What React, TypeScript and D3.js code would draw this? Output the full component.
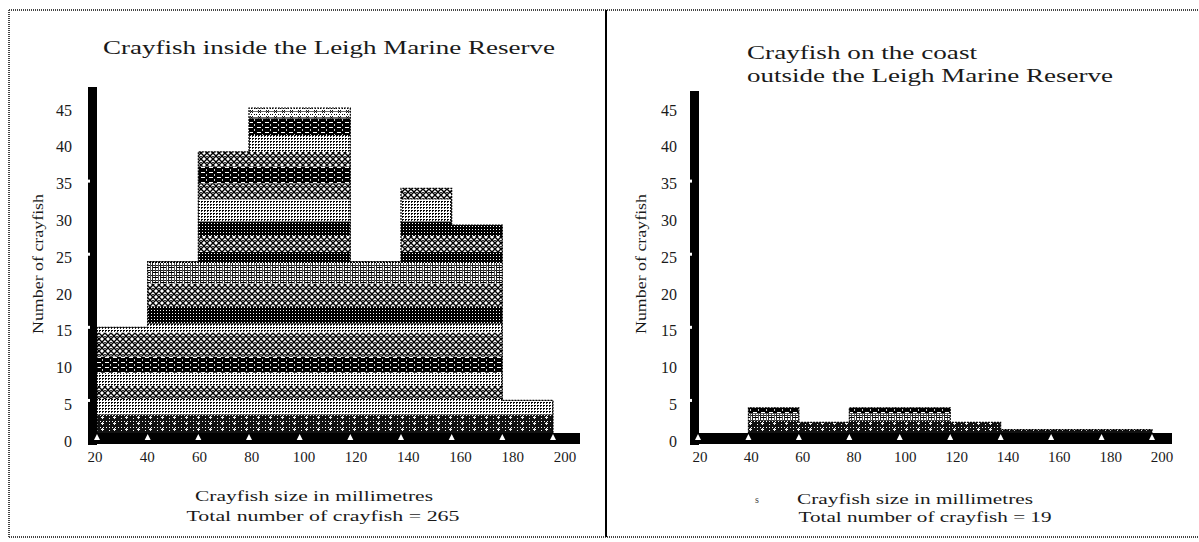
import React from "react";
import * as d3 from "d3";

// ---- data ----
const binEdges = [20, 40, 60, 80, 100, 120, 140, 160, 180, 200];
const insideCounts = [15, 24, 39, 45, 45, 24, 34, 29, 5];
const outsideCounts = [0, 4, 2, 4, 4, 2, 1, 1, 1];
const yTickValues = [0, 5, 10, 15, 20, 25, 30, 35, 40, 45];
const xTickValues = [20, 40, 60, 80, 100, 120, 140, 160, 180, 200];
const insideTitle = ["Crayfish inside the Leigh Marine Reserve"];
const outsideTitle = ["Crayfish on the coast", "outside the Leigh Marine Reserve"];
const yAxisTitle = "Number of crayfish";
const xAxisTitle = "Crayfish size in millimetres";
const insideTotal = "Total number of crayfish = 265";
const outsideTotal = "Total number of crayfish = 19";

// band fill styles (bottom to top, value units)
const insideBands: [number, number, string][] = [
  [0, 3.1, "pDarkX"], [3.1, 5.2, "pLight"], [5.2, 7, "pCross"], [7, 8.8, "pLight"],
  [8.8, 11, "pDash"], [11, 14.3, "pCross"], [14.3, 15.5, "pLight"], [15.5, 17.8, "pDark"],
  [17.8, 21, "pCross"], [21, 23.8, "pLightDash"], [23.8, 25.3, "pDark"], [25.3, 27.5, "pCross"],
  [27.5, 29.5, "pDark"], [29.5, 32.5, "pLight"], [32.5, 34.7, "pCross"], [34.7, 37, "pDash"],
  [37, 39, "pCross"], [39, 41.3, "pLight"], [41.3, 43.6, "pDash"], [43.6, 46, "pLightX"],
];
const outsideBands: [number, number, string][] = [
  [0, 2.2, "pDarkX"], [2.2, 3.2, "pLightDash"], [3.2, 4.2, "pDash"],
];

const FONT = "'Liberation Serif', 'DejaVu Serif', serif";
const INK = "#1a1a1a";

function Patterns() {
  return (
    <defs>
      <pattern id="pDark" width="3" height="3" patternUnits="userSpaceOnUse">
        <rect width="3" height="3" fill="#000" />
        <rect x="1" y="1" width="1" height="1" fill="#fff" />
      </pattern>
      <pattern id="pDarkX" width="12" height="6" patternUnits="userSpaceOnUse">
        <rect width="12" height="6" fill="#111" />
        <rect x="1" y="1" width="1" height="1" fill="#fff" />
        <rect x="4" y="1" width="1" height="1" fill="#fff" />
        <rect x="7" y="1" width="1" height="1" fill="#fff" />
        <rect x="10" y="1" width="1" height="1" fill="#fff" />
        <rect x="1" y="4" width="1" height="1" fill="#fff" />
        <rect x="5" y="3" width="3" height="1" fill="#fff" />
        <rect x="6" y="2" width="1" height="3" fill="#eee" />
      </pattern>
      <pattern id="pLight" width="3" height="3" patternUnits="userSpaceOnUse">
        <rect width="3" height="3" fill="#fff" />
        <rect x="0" y="0" width="2" height="1" fill="#000" />
        <rect x="0" y="1" width="1" height="1" fill="#222" />
      </pattern>
      <pattern id="pLightX" width="8" height="6" patternUnits="userSpaceOnUse">
        <rect width="8" height="6" fill="#fff" />
        <rect x="0" y="0" width="1" height="1" fill="#000" />
        <rect x="3" y="0" width="1" height="1" fill="#000" />
        <rect x="6" y="0" width="1" height="1" fill="#000" />
        <rect x="0" y="3" width="8" height="1" fill="#666" />
        <path d="M2 2 L5 5 M5 2 L2 5" stroke="#000" strokeWidth="0.9" />
      </pattern>
      <pattern id="pCross" width="6" height="6" patternUnits="userSpaceOnUse">
        <rect width="6" height="6" fill="#fff" />
        <path d="M0 0 L6 6 M6 0 L0 6" stroke="#000" strokeWidth="1.4" />
        <rect x="2" y="0" width="2" height="1" fill="#333" />
      </pattern>
      <pattern id="pDash" width="8" height="5" patternUnits="userSpaceOnUse">
        <rect width="8" height="5" fill="#000" />
        <rect x="1" y="2" width="4" height="1" fill="#fff" />
        <rect x="6" y="0" width="1" height="1" fill="#ccc" />
        <rect x="6" y="4" width="1" height="1" fill="#ccc" />
      </pattern>
      <pattern id="pLightDash" width="8" height="5" patternUnits="userSpaceOnUse">
        <rect width="8" height="5" fill="#fff" />
        <rect x="0" y="0" width="8" height="1" fill="#222" />
        <rect x="0" y="0" width="1" height="5" fill="#222" />
        <rect x="3" y="0" width="1" height="5" fill="#444" />
        <rect x="6" y="0" width="1" height="5" fill="#555" />
        <rect x="1" y="2" width="5" height="1" fill="#000" />
      </pattern>
    </defs>
  );
}

type PanelProps = {
  id: string;
  counts: number[];
  bands: [number, number, string][];
  xRange: [number, number];
  xLabelRange: [number, number];
  yAxisX: number;
  yAxisTop: number;
  xAxisEnd: number;
  yLabelRight: number;
  yTitleX: number;
  title: string[];
  titleX: number;
  titleY: number;
  titleAnchor: "start" | "middle";
  titleLengths: number[];
  xTitleX: number[];
  xTitleY: number[];
  xTitleLengths: number[];
  total: string;
};

function Panel(p: PanelProps) {
  const x = d3.scaleLinear().domain([20, 200]).range(p.xRange);
  const xl = d3.scaleLinear().domain([20, 200]).range(p.xLabelRange);
  const y = d3.scaleLinear().domain([0, 45]).range([437, 108]);
  const yl = d3.scaleLinear().domain([0, 45]).range([443, 112]);
  const bins = p.counts.map((c, i) => ({ x0: binEdges[i], x1: binEdges[i + 1], c }));
  const clipId = "clip-" + p.id;
  const barPath = d3.path();
  bins.forEach((b) => {
    if (b.c > 0) barPath.rect(x(b.x0), y(b.c), x(b.x1) - x(b.x0), y(0) - y(b.c));
  });
  let outline = `M${x(20)},${y(0)}`;
  bins.forEach((b) => {
    outline += ` L${x(b.x0)},${y(b.c)} L${x(b.x1)},${y(b.c)}`;
  });
  outline += ` L${x(200)},${y(0)}`;
  return (
    <g>
      <clipPath id={clipId}>
        <path d={barPath.toString()} />
      </clipPath>
      <g clipPath={`url(#${clipId})`}>
        {p.bands.map(([a, b, pat], i) => (
          <rect key={i} x={x(20)} width={x(200) - x(20)} y={y(b)} height={y(a) - y(b)} fill={`url(#${pat})`} />
        ))}
      </g>
      <path d={outline} fill="none" stroke="#000" strokeWidth={1.2} strokeDasharray="2,1" />
      {/* y axis bar */}
      <rect x={p.yAxisX} y={p.yAxisTop} width={9} height={445 - p.yAxisTop} fill="#000" />
      {[5, 15, 25, 35].map((v) => (
        <rect key={v} x={p.yAxisX - 1} y={y(v) - 1.5} width={3} height={3} fill="#fff" />
      ))}
      {/* x axis bar */}
      <rect x={p.yAxisX} y={433} width={p.xAxisEnd - p.yAxisX} height={11} fill="#000" />
      {xTickValues.map((t) => (
        <path key={t} d={`M${x(t) - 3},${440} L${x(t)},${434} L${x(t) + 3},${440} Z`} fill="#fff" />
      ))}
      {/* y tick labels */}
      {yTickValues.map((t) => (
        <text key={t} x={p.yLabelRight} y={yl(t)} textAnchor="end" dominantBaseline="middle"
          fontFamily={FONT} fontSize={16} fill={INK}>{t}</text>
      ))}
      {/* x tick labels */}
      {xTickValues.map((t) => (
        <text key={t} x={xl(t)} y={459} textAnchor="middle" dominantBaseline="middle"
          fontFamily={FONT} fontSize={15} fill={INK}>{t}</text>
      ))}
      {/* y title */}
      <text transform={`translate(${p.yTitleX},264) rotate(-90)`} textAnchor="middle" dominantBaseline="middle"
        fontFamily={FONT} fontSize={15} fill={INK} textLength={140} lengthAdjust="spacingAndGlyphs">{yAxisTitle}</text>
      {/* title */}
      {p.title.map((s, i) => (
        <text key={i} x={p.titleX} y={p.titleY + i * 23} textAnchor={p.titleAnchor} dominantBaseline="middle"
          fontFamily={FONT} fontSize={18} fill={INK} textLength={p.titleLengths[i]} lengthAdjust="spacingAndGlyphs">{s}</text>
      ))}
      {/* x titles */}
      <text x={p.xTitleX[0]} y={p.xTitleY[0]} textAnchor="middle" dominantBaseline="middle"
        fontFamily={FONT} fontSize={15} fill={INK} textLength={p.xTitleLengths[0]} lengthAdjust="spacingAndGlyphs">{xAxisTitle}</text>
      <text x={p.xTitleX[1]} y={p.xTitleY[1]} textAnchor="middle" dominantBaseline="middle"
        fontFamily={FONT} fontSize={15} fill={INK} textLength={p.xTitleLengths[1]} lengthAdjust="spacingAndGlyphs">{p.total}</text>
    </g>
  );
}

export default function App() {
  return (
    <svg width={1199} height={542} style={{ position: "absolute", left: 0, top: 0, background: "#fff" }}>
      <Patterns />
      <rect width={1199} height={542} fill="#fff" />
      {/* frame */}
      <line x1={9} y1={10} x2={1199} y2={10} stroke="#444" strokeWidth={2} strokeDasharray="1,1" />
      <line x1={9} y1={10} x2={9} y2={537} stroke="#444" strokeWidth={2} strokeDasharray="1,1" />
      <line x1={9} y1={537} x2={1199} y2={537} stroke="#444" strokeWidth={2} strokeDasharray="1,1" />
      <line x1={606} y1={10} x2={606} y2={537} stroke="#000" strokeWidth={2} />
      <Panel id="in" counts={insideCounts} bands={insideBands}
        xRange={[97, 553]} xLabelRange={[95, 565]} yAxisX={88} yAxisTop={87} xAxisEnd={580}
        yLabelRight={72} yTitleX={40}
        title={insideTitle} titleX={329} titleY={50} titleAnchor="middle" titleLengths={[452]}
        xTitleX={[314, 323]} xTitleY={[498, 518]} xTitleLengths={[238, 273]} total={insideTotal} />
      <Panel id="out" counts={outsideCounts} bands={outsideBands}
        xRange={[698, 1152]} xLabelRange={[700, 1162]} yAxisX={690} yAxisTop={91} xAxisEnd={1172}
        yLabelRight={677} yTitleX={643}
        title={outsideTitle} titleX={747} titleY={55} titleAnchor="start" titleLengths={[230, 366]}
        xTitleX={[915, 925]} xTitleY={[501, 519]} xTitleLengths={[236, 253]} total={outsideTotal} />
      <text x={757} y={501} textAnchor="middle" dominantBaseline="middle" fontFamily={FONT} fontSize={10} fill="#444">s</text>
    </svg>
  );
}
